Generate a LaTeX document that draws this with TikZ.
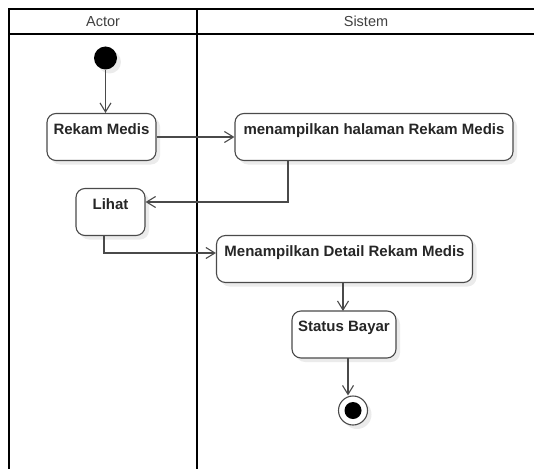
\documentclass[tikz,border=0pt]{standalone}
\usepackage{fontspec}
\setmainfont{Liberation Sans}
\usetikzlibrary{arrows.meta,shadows}
\definecolor{edgegray}{HTML}{4A4A4A}
\definecolor{headtext}{HTML}{404040}
\tikzset{
  lane/.style={line width=2pt, black},
  actbox/.style={draw=edgegray, line width=1.1pt, rounded corners=9pt, fill=white,
    font=\fontsize{15}{17}\selectfont\bfseries, text=black!85,
    inner xsep=4pt, inner ysep=5pt, text height=15.5pt, text depth=21.5pt,
    drop shadow={shadow xshift=4pt, shadow yshift=-4pt, fill=black, opacity=0.08}},
  startdot/.style={circle, fill=black, minimum size=23pt, inner sep=0pt,
    drop shadow={shadow xshift=4pt, shadow yshift=-4pt, fill=black, opacity=0.08}},
  enddot/.style={circle, draw=edgegray, line width=1.1pt, fill=white, minimum size=29pt, inner sep=0pt,
    drop shadow={shadow xshift=4pt, shadow yshift=-4pt, fill=black, opacity=0.08}},
  flow/.style={draw=edgegray, line width=1.1pt, -{Straight Barb[length=9pt,width=11pt,line width=1.1pt]}},
  headlabel/.style={font=\fontsize{14.5}{16}\selectfont, text=headtext},
}
\begin{document}
\begin{tikzpicture}[x=1pt,y=-1pt]
  \useasboundingbox (0,0) rectangle (534,468);
  % swimlane frame
  \draw[lane] (9,470) -- (9,9) -- (536,9);
  \draw[lane] (9,34) -- (536,34);
  \draw[lane] (197,9) -- (197,470);
  \node[headlabel] (hactor) at (103,21.5) {Actor};
  \node[headlabel] (hsistem) at (366,21.5) {Sistem};

  % activities
  \node[startdot] (start) at (105.5,58) {};
  \node[actbox, minimum width=109pt] (rekam) at (101.5,137) {Rekam Medis};
  \node[actbox, minimum width=278pt] (tampil) at (374,137) {menampilkan halaman Rekam Medis};
  \node[actbox, minimum width=69pt] (lihat) at (110.5,212) {Lihat};
  \node[actbox, minimum width=256pt] (detail) at (344.5,259) {Menampilkan Detail Rekam Medis};
  \node[actbox, minimum width=104pt] (status) at (344,334.5) {Status Bayar};
  \node[enddot] (stop) at (353,410.5) {};
  \fill[black] (stop.center) circle (8.5pt);

  % control flow
  \draw[flow] (start) -- (start |- rekam.north);
  \draw[flow] (rekam.east |- 0,137) -- (tampil.west |- 0,137);
  \draw[flow] (288,161) -- (288,202) -- (lihat.east |- 0,202);
  \draw[flow] (104,236) -- (104,253) -- (detail.west |- 0,253);
  \draw[flow] (343,283) -- (343,311);
  \draw[flow] (348,358) -- (stop.north -| 348,0);
\end{tikzpicture}
\end{document}
